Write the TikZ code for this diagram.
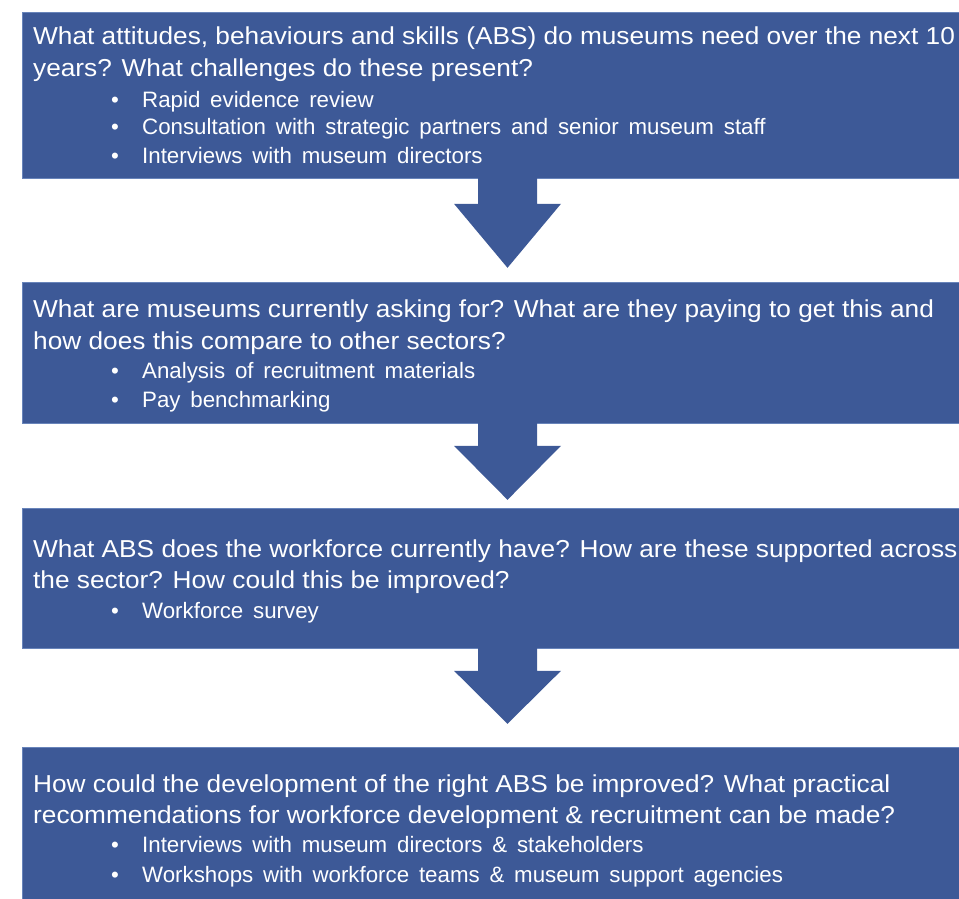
\documentclass[tikz,border=0pt]{standalone}
\usepackage{fontspec}
\setmainfont{Liberation Sans}
\newfontfamily\askfont{Liberation Sans}[FakeStretch=1.071]
\usetikzlibrary{calc}
\definecolor{stageblue}{RGB}{61,89,151}
\definecolor{stageedge}{RGB}{104,132,186}
\newcommand\asksize{\askfont\fontsize{24.5}{30}\selectfont}
\newcommand\itemsize{\fontsize{22.3}{27}\selectfont\spaceskip=9.8pt}
\newcommand\bul{\makebox[31pt][l]{\textbullet}}

\begin{document}
\begin{tikzpicture}[x=1pt,y=-1pt,
  stage/.style={fill=stageblue, draw=stageedge, line width=0.8pt, anchor=north west,
    minimum width=950pt, inner sep=0pt},
  ask/.style={anchor=base west, inner sep=0pt, text=white, font=\asksize},
  item/.style={anchor=base west, inner sep=0pt, text=white, font=\itemsize,
    execute at begin node=\bul},
  ]
\clip (0,0) rectangle (959,899);

\node[stage, minimum height=166pt] (q1) at (22,12) {};
\node[stage, minimum height=141pt] (q2) at (22,282) {};
\node[stage, minimum height=140pt] (q3) at (22,508) {};
\node[stage, minimum height=165pt] (q4) at (22,747) {};

% block arrows from one stage down to the next
\foreach \a/\sh/\hd in {q1/25/64, q2/22/54, q3/22/53}
  \fill[stageblue] (\a.south -| 478,0) ++(0,-1) -- ++(0,\sh+1) -- ++(-24,0)
    -- ++(53.5,\hd) -- ++(53.5,-\hd) -- ++(-24,0) -- ++(0,-\sh-1) -- cycle;

% questions
\foreach \y/\t in {
    45/{What attitudes, behaviours and skills (ABS) do museums need over the next 10},
    77/{years? What challenges do these present?},
    317/{What are museums currently asking for? What are they paying to get this and},
    349/{how does this compare to other sectors?},
    557/{What ABS does the workforce currently have? How are these supported across},
    588/{the sector? How could this be improved?},
    792/{How could the development of the right ABS be improved? What practical},
    823/{recommendations for workforce development \& recruitment can be made?}}
  \node[ask] (l\y) at (33,\y) {\t};

% methods
\foreach \y/\t in {
    107/Rapid evidence review,
    135/Consultation with strategic partners and senior museum staff,
    163/Interviews with museum directors,
    378/Analysis of recruitment materials,
    407/Pay benchmarking,
    618/Workforce survey,
    852/Interviews with museum directors \& stakeholders,
    882/Workshops with workforce teams \& museum support agencies}
  \node[item] (i\y) at (111,\y) {\t};
\end{tikzpicture}
\end{document}
